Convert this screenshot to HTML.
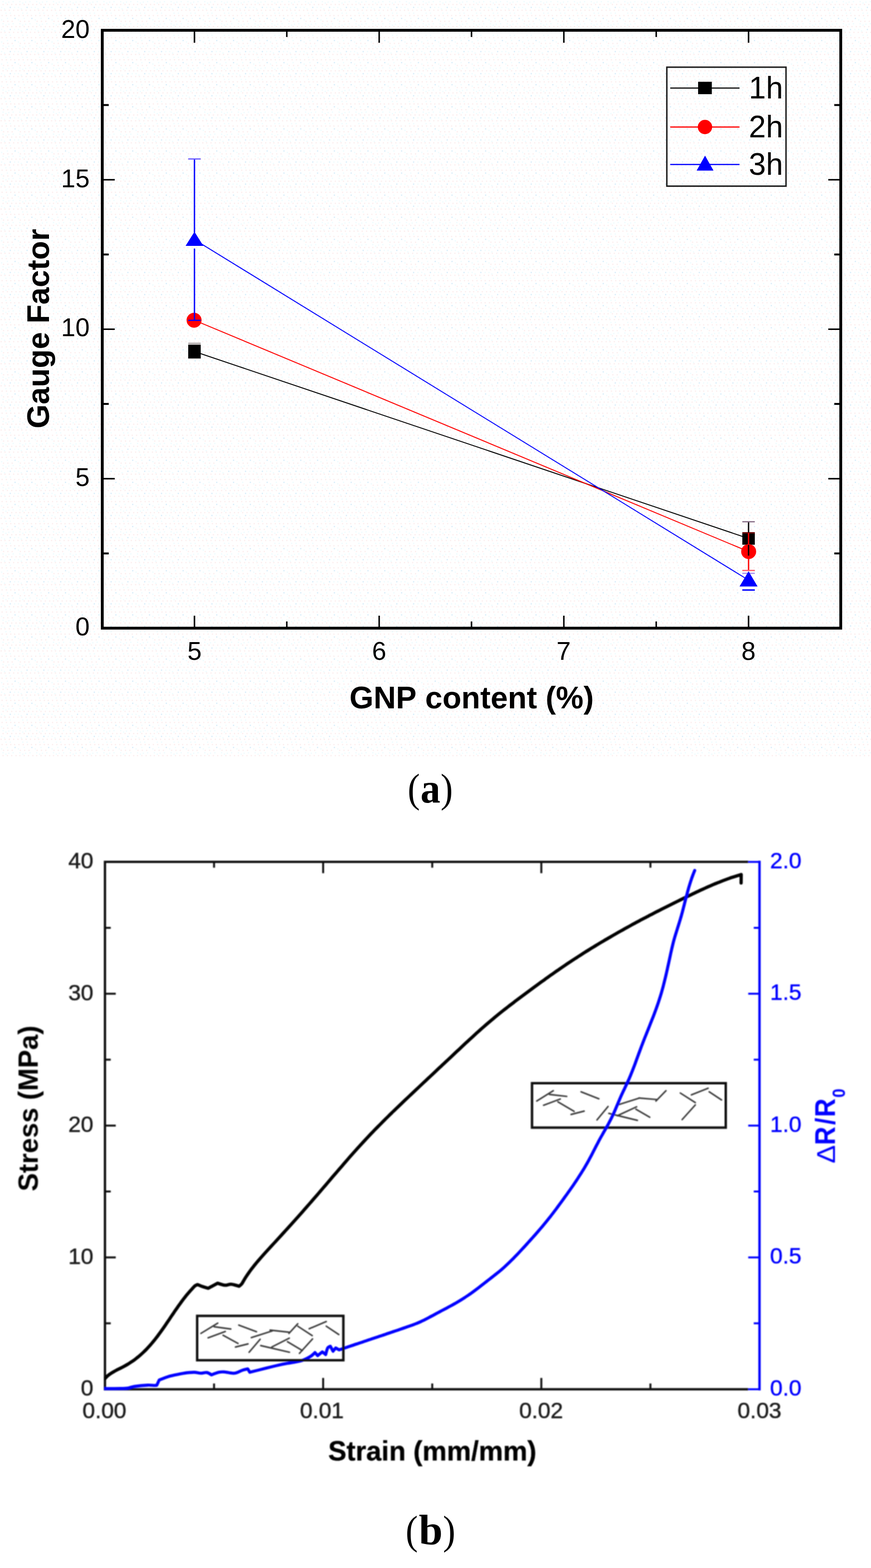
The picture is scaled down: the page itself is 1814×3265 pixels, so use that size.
<!DOCTYPE html>
<html lang="en">
<head>
<meta charset="utf-8">
<title>Gauge factor and stress-strain figure</title>
<style>
html,body{margin:0;padding:0;background:#fff;}
body{width:1814px;height:3265px;overflow:hidden;}
svg{display:block;}
text{font-family:"Liberation Sans", Arial, Helvetica, sans-serif;font-kerning:none;white-space:pre;}
text.serif{font-family:"Liberation Serif", "Times New Roman", serif;}
</style>
</head>
<body>
<svg width="1814" height="3265" viewBox="0 0 1814 3265">
<defs>
<filter id="soft" filterUnits="userSpaceOnUse" x="0" y="1740" width="1814" height="1340">
<feGaussianBlur stdDeviation="1"/>
</filter>
<clipPath id="plotclip"><rect x="217" y="1790" width="1370" height="1107"/></clipPath>
<pattern id="dots" x="0" y="0" width="35" height="46" patternUnits="userSpaceOnUse">
<rect x="5" y="8" width="2.8" height="2.8" fill="#fcf0f0"/>
<rect x="14" y="8" width="2.8" height="2.8" fill="#fcf0f0"/>
<rect x="23" y="8" width="2.8" height="2.8" fill="#fcf0f0"/>
<rect x="32" y="8" width="2.8" height="2.8" fill="#fcf0f0"/>
<rect x="1" y="20" width="2.8" height="2.8" fill="#fcf0f0"/>
<rect x="9" y="20" width="2.8" height="2.8" fill="#fcf0f0"/>
<rect x="18" y="20" width="2.8" height="2.8" fill="#fcf0f0"/>
<rect x="27" y="20" width="2.8" height="2.8" fill="#fcf0f0"/>
<rect x="3" y="31" width="2.8" height="2.8" fill="#fcf0f0"/>
<rect x="12" y="31" width="2.8" height="2.8" fill="#fcf0f0"/>
<rect x="21" y="31" width="2.8" height="2.8" fill="#fcf0f0"/>
<rect x="29" y="31" width="2.8" height="2.8" fill="#fcf0f0"/>
<rect x="6" y="43" width="2.8" height="2.8" fill="#fcf0f0"/>
<rect x="15" y="43" width="2.8" height="2.8" fill="#fcf0f0"/>
<rect x="24" y="43" width="2.8" height="2.8" fill="#fcf0f0"/>
<rect x="5" y="2" width="2.8" height="2.8" fill="#f0fcfe"/>
<rect x="17" y="3" width="2.8" height="2.8" fill="#f0fcfe"/>
<rect x="26" y="2" width="2.8" height="2.8" fill="#f0fcfe"/>
<rect x="11" y="5" width="2.8" height="2.8" fill="#f0fcfe"/>
<rect x="2" y="14" width="2.8" height="2.8" fill="#f0fcfe"/>
<rect x="8" y="17" width="2.8" height="2.8" fill="#f0fcfe"/>
<rect x="29" y="14" width="2.8" height="2.8" fill="#f0fcfe"/>
<rect x="11" y="26" width="2.8" height="2.8" fill="#f0fcfe"/>
<rect x="20" y="26" width="2.8" height="2.8" fill="#f0fcfe"/>
<rect x="14" y="37" width="2.8" height="2.8" fill="#f0fcfe"/>
<rect x="2" y="40" width="2.8" height="2.8" fill="#f0fcfe"/>
<rect x="20" y="14" width="2.8" height="2.8" fill="#ddeffa"/>
<rect x="30" y="37" width="2.8" height="2.8" fill="#ddeffa"/>
</pattern>
</defs>
<rect x="0" y="0" width="1814" height="3265" fill="#ffffff"/>
<rect x="0" y="0" width="1814" height="1578" fill="url(#dots)"/>

<g id="chart-a">
<g stroke="#000" stroke-width="3.1" fill="none">
<line x1="405.0" y1="1308.0" x2="405.0" y2="1282.0"/>
<line x1="405.0" y1="63.05" x2="405.0" y2="89.05"/>
<line x1="789.7" y1="1308.0" x2="789.7" y2="1282.0"/>
<line x1="789.7" y1="63.05" x2="789.7" y2="89.05"/>
<line x1="1174.3" y1="1308.0" x2="1174.3" y2="1282.0"/>
<line x1="1174.3" y1="63.05" x2="1174.3" y2="89.05"/>
<line x1="1559.0" y1="1308.0" x2="1559.0" y2="1282.0"/>
<line x1="1559.0" y1="63.05" x2="1559.0" y2="89.05"/>
<line x1="597.3" y1="1308.0" x2="597.3" y2="1294.0"/>
<line x1="597.3" y1="63.05" x2="597.3" y2="77.05"/>
<line x1="982.0" y1="1308.0" x2="982.0" y2="1294.0"/>
<line x1="982.0" y1="63.05" x2="982.0" y2="77.05"/>
<line x1="1366.7" y1="1308.0" x2="1366.7" y2="1294.0"/>
<line x1="1366.7" y1="63.05" x2="1366.7" y2="77.05"/>
<line x1="213.0" y1="996.8" x2="239.0" y2="996.8"/>
<line x1="1751.0" y1="996.8" x2="1725.0" y2="996.8"/>
<line x1="213.0" y1="685.5" x2="239.0" y2="685.5"/>
<line x1="1751.0" y1="685.5" x2="1725.0" y2="685.5"/>
<line x1="213.0" y1="374.3" x2="239.0" y2="374.3"/>
<line x1="1751.0" y1="374.3" x2="1725.0" y2="374.3"/>
</g>
<g stroke="#000" stroke-width="4" fill="none">
<line x1="213.0" y1="1152.4" x2="226.5" y2="1152.4"/>
<line x1="1751.0" y1="1152.4" x2="1737.5" y2="1152.4"/>
<line x1="213.0" y1="841.1" x2="226.5" y2="841.1"/>
<line x1="1751.0" y1="841.1" x2="1737.5" y2="841.1"/>
<line x1="213.0" y1="529.9" x2="226.5" y2="529.9"/>
<line x1="1751.0" y1="529.9" x2="1737.5" y2="529.9"/>
<line x1="213.0" y1="218.7" x2="226.5" y2="218.7"/>
<line x1="1751.0" y1="218.7" x2="1737.5" y2="218.7"/>
</g>
<rect x="213.0" y="63.05" width="1538.0" height="1244.95" fill="none" stroke="#000" stroke-width="5.9"/>
<text x="127.18" y="79.30" font-size="53.50" fill="#000">20</text>
<text x="127.34" y="389.60" font-size="53.50" fill="#000">15</text>
<text x="127.18" y="700.10" font-size="53.50" fill="#000">10</text>
<text x="157.09" y="1011.90" font-size="53.50" fill="#000">5</text>
<text x="156.94" y="1322.50" font-size="53.50" fill="#000">0</text>
<text x="390.18" y="1374.20" font-size="53.50" fill="#000">5</text>
<text x="774.64" y="1374.20" font-size="53.50" fill="#000">6</text>
<text x="1159.10" y="1374.20" font-size="53.50" fill="#000">7</text>
<text x="1544.12" y="1374.20" font-size="53.50" fill="#000">8</text>
<text x="727.87" y="1475.30" font-size="64.50" font-weight="bold" fill="#000">GNP content (%)</text>
<text transform="translate(101.80 892.21) rotate(-90)" font-size="64.50" font-weight="bold" fill="#000">Gauge Factor</text>
<line x1="405.0" y1="732.0" x2="1559.0" y2="1121.3" stroke="#000000" stroke-width="2"/>
<line x1="405.0" y1="666.8" x2="1559.0" y2="1148.5" stroke="#ff0000" stroke-width="2"/>
<line x1="405.0" y1="499.0" x2="1559.0" y2="1208.0" stroke="#0000ff" stroke-width="2"/>
<line x1="392" y1="715.6" x2="418" y2="715.6" stroke="#b9b4b4" stroke-width="4.6"/>
<rect x="392.0" y="718.0" width="26" height="28.5" fill="#000"/>
<circle cx="404.2" cy="666.8" r="15.6" fill="#ff0000"/>
<line x1="405" y1="331" x2="405" y2="484" stroke="#0000ff" stroke-width="2.8"/>
<line x1="405" y1="517.5" x2="405" y2="667" stroke="#0000ff" stroke-width="2.8"/>
<line x1="392" y1="331" x2="418" y2="331" stroke="#6a5aff" stroke-width="2.6"/>
<line x1="392" y1="667" x2="418" y2="667" stroke="#0000ff" stroke-width="2.6"/>
<polygon points="405,482.5 423.5,512 386.5,512" fill="#0000ff"/>
<line x1="1559" y1="1086.4" x2="1559" y2="1110" stroke="#000" stroke-width="2.8"/>
<line x1="1546" y1="1086.4" x2="1572" y2="1086.4" stroke="#8a7088" stroke-width="2.6"/>
<rect x="1546.0" y="1108.3" width="26" height="26" fill="#000"/>
<circle cx="1559.2" cy="1148.5" r="15.6" fill="#ff0000"/>
<line x1="1546" y1="1109.6" x2="1572" y2="1109.6" stroke="#700000" stroke-width="2.6"/>
<line x1="1559" y1="1110" x2="1559" y2="1134.5" stroke="#ff0000" stroke-width="2.8"/>
<line x1="1559" y1="1134.5" x2="1559" y2="1157" stroke="#000" stroke-width="2.8"/>
<line x1="1559" y1="1163" x2="1559" y2="1188" stroke="#ff0000" stroke-width="2.8"/>
<line x1="1546" y1="1187.9" x2="1572" y2="1187.9" stroke="#ff5a6a" stroke-width="2.6"/>
<line x1="1546" y1="1193.8" x2="1572" y2="1193.8" stroke="#a890f0" stroke-width="2.6"/>
<polygon points="1559,1189.4 1577.8,1221.2 1540.2,1221.2" fill="#0000ff"/>
<line x1="1546" y1="1228.6" x2="1572" y2="1228.6" stroke="#0000ff" stroke-width="3"/>
<rect x="1388.8" y="139.9" width="248.2" height="247.7" fill="none" stroke="#1a1a1a" stroke-width="3"/>
<line x1="1395.8" y1="183.3" x2="1540.2" y2="183.3" stroke="#222" stroke-width="2.7"/>
<line x1="1395.8" y1="264.5" x2="1540.2" y2="264.5" stroke="#ff0000" stroke-width="2.7"/>
<line x1="1395.8" y1="342.5" x2="1540.2" y2="342.5" stroke="#0000ff" stroke-width="2.7"/>
<rect x="1453.9" y="170.3" width="28.6" height="25.8" fill="#000"/>
<circle cx="1468.2" cy="264.5" r="15" fill="#ff0000"/>
<polygon points="1468.4,323.9 1486.0,355.2 1450.8000000000002,355.2" fill="#0000ff"/>
<text x="1559.57" y="205.00" font-size="64.00" fill="#000">1h</text>
<text x="1559.57" y="285.90" font-size="64.00" fill="#000">2h</text>
<text x="1559.57" y="364.20" font-size="64.00" fill="#000">3h</text>
</g>
<text class="serif" fill="#000"><tspan x="848.93" y="1670.30" font-size="85.03" textLength="25.54" lengthAdjust="spacingAndGlyphs">(</tspan><tspan x="875.64" y="1671.03" font-size="89.14" font-weight="bold" textLength="41.31" lengthAdjust="spacingAndGlyphs">a</tspan><tspan x="917.62" y="1670.30" font-size="85.03" textLength="25.67" lengthAdjust="spacingAndGlyphs">)</tspan></text>
<g id="chart-b" filter="url(#soft)">
<g stroke="#0a0a0a" stroke-width="4" fill="none">
<line x1="673.0" y1="2892.8" x2="673.0" y2="2869.3"/>
<line x1="673.0" y1="1794.7" x2="673.0" y2="1818.2"/>
<line x1="1127.4" y1="2892.8" x2="1127.4" y2="2869.3"/>
<line x1="1127.4" y1="1794.7" x2="1127.4" y2="1818.2"/>
<line x1="445.8" y1="2892.8" x2="445.8" y2="2880.8"/>
<line x1="445.8" y1="1794.7" x2="445.8" y2="1806.7"/>
<line x1="900.2" y1="2892.8" x2="900.2" y2="2880.8"/>
<line x1="900.2" y1="1794.7" x2="900.2" y2="1806.7"/>
<line x1="1354.6" y1="2892.8" x2="1354.6" y2="2880.8"/>
<line x1="1354.6" y1="1794.7" x2="1354.6" y2="1806.7"/>
<line x1="218.6" y1="2618.3" x2="241.1" y2="2618.3"/>
<line x1="218.6" y1="2343.8" x2="241.1" y2="2343.8"/>
<line x1="218.6" y1="2069.2" x2="241.1" y2="2069.2"/>
<line x1="218.6" y1="2755.5" x2="230.6" y2="2755.5"/>
<line x1="218.6" y1="2481.0" x2="230.6" y2="2481.0"/>
<line x1="218.6" y1="2206.5" x2="230.6" y2="2206.5"/>
<line x1="218.6" y1="1932.0" x2="230.6" y2="1932.0"/>
</g>
<g stroke="#0000ff" stroke-width="4" fill="none">
<line x1="1581.8" y1="2892.8" x2="1558.3" y2="2892.8"/>
<line x1="1581.8" y1="2618.3" x2="1558.3" y2="2618.3"/>
<line x1="1581.8" y1="2343.8" x2="1558.3" y2="2343.8"/>
<line x1="1581.8" y1="2069.2" x2="1558.3" y2="2069.2"/>
<line x1="1581.8" y1="1794.7" x2="1558.3" y2="1794.7"/>
<line x1="1581.8" y1="2755.5" x2="1569.8" y2="2755.5"/>
<line x1="1581.8" y1="2481.0" x2="1569.8" y2="2481.0"/>
<line x1="1581.8" y1="2206.5" x2="1569.8" y2="2206.5"/>
<line x1="1581.8" y1="1932.0" x2="1569.8" y2="1932.0"/>
</g>
<path d="M1558.3,1794.7 H218.6 V2892.8 H1558.3" fill="none" stroke="#0a0a0a" stroke-width="4.8" stroke-linejoin="miter"/>
<line x1="1581.8" y1="1792.3" x2="1581.8" y2="2895.2000000000003" stroke="#0000ff" stroke-width="5"/>
<text x="168.30" y="2906.40" font-size="47.00" fill="#1c1c1c" stroke="#1c1c1c" stroke-width="0.7">0</text>
<text x="142.16" y="2631.88" font-size="47.00" fill="#1c1c1c" stroke="#1c1c1c" stroke-width="0.7">10</text>
<text x="142.16" y="2357.35" font-size="47.00" fill="#1c1c1c" stroke="#1c1c1c" stroke-width="0.7">20</text>
<text x="142.16" y="2082.82" font-size="47.00" fill="#1c1c1c" stroke="#1c1c1c" stroke-width="0.7">30</text>
<text x="142.16" y="1808.30" font-size="47.00" fill="#1c1c1c" stroke="#1c1c1c" stroke-width="0.7">40</text>
<text x="1603.76" y="2906.00" font-size="47.0" fill="#0000ff" stroke="#0000ff" stroke-width="0.7">0.0</text>
<text x="1603.76" y="2631.47" font-size="47.0" fill="#0000ff" stroke="#0000ff" stroke-width="0.7">0.5</text>
<text x="1603.76" y="2356.95" font-size="47.0" fill="#0000ff" stroke="#0000ff" stroke-width="0.7">1.0</text>
<text x="1603.76" y="2082.42" font-size="47.0" fill="#0000ff" stroke="#0000ff" stroke-width="0.7">1.5</text>
<text x="1603.76" y="1807.90" font-size="47.0" fill="#0000ff" stroke="#0000ff" stroke-width="0.7">2.0</text>
<text x="171.76" y="2953.20" font-size="47.00" fill="#1c1c1c" stroke="#1c1c1c" stroke-width="0.7">0.00</text>
<text x="624.69" y="2953.20" font-size="47.00" fill="#1c1c1c" stroke="#1c1c1c" stroke-width="0.7">0.01</text>
<text x="1081.13" y="2953.20" font-size="47.00" fill="#1c1c1c" stroke="#1c1c1c" stroke-width="0.7">0.02</text>
<text x="1535.98" y="2953.20" font-size="47.00" fill="#1c1c1c" stroke="#1c1c1c" stroke-width="0.7">0.03</text>
<text x="683.45" y="3041.40" font-size="57.00" font-weight="bold" fill="#050505" stroke="#050505" stroke-width="0.5">Strain (mm/mm)</text>
<text transform="translate(78.60 2480.64) rotate(-90)" font-size="57.00" font-weight="bold" fill="#000">Stress (MPa)</text>
<text transform="translate(1738.90 2422.50) rotate(-90)" fill="#0000ff"><tspan x="0.00" y="0.00" font-size="52.76" textLength="38.13" lengthAdjust="spacingAndGlyphs">Δ</tspan><tspan x="38.15" y="-0.40" font-size="59.59" font-weight="bold" textLength="38.34" lengthAdjust="spacingAndGlyphs">R</tspan><tspan x="80.19" y="-0.15" font-size="57.34" font-weight="bold" textLength="14.63" lengthAdjust="spacingAndGlyphs">/</tspan><tspan x="96.41" y="-0.40" font-size="59.59" font-weight="bold" textLength="38.80" lengthAdjust="spacingAndGlyphs">R</tspan><tspan x="137.07" y="20.74" font-size="36.44" font-weight="bold" textLength="18.71" lengthAdjust="spacingAndGlyphs">0</tspan></text>
<path d="M218.6,2870.5 C219.6,2869.5 222.3,2866.5 224.4,2864.7 C226.4,2863.0 228.6,2861.4 230.9,2859.9 C233.1,2858.4 235.5,2857.0 237.8,2855.7 C240.2,2854.3 242.7,2853.1 245.1,2851.8 C247.6,2850.5 250.1,2849.3 252.6,2848.1 C255.0,2846.8 257.5,2845.6 259.9,2844.2 C262.4,2842.9 264.7,2841.5 267.1,2840.1 C269.4,2838.7 271.8,2837.2 274.0,2835.6 C276.3,2834.1 278.6,2832.5 280.8,2830.9 C283.0,2829.2 285.1,2827.5 287.3,2825.8 C289.4,2824.1 291.5,2822.3 293.5,2820.5 C295.6,2818.7 297.6,2816.8 299.6,2814.9 C301.5,2813.0 303.5,2811.1 305.4,2809.1 C307.3,2807.1 309.2,2805.1 311.0,2803.1 C312.8,2801.0 314.6,2799.0 316.4,2796.9 C318.2,2794.8 319.9,2792.6 321.7,2790.5 C323.4,2788.3 325.1,2786.1 326.8,2783.9 C328.4,2781.7 330.1,2779.5 331.7,2777.3 C333.4,2775.0 335.0,2772.8 336.6,2770.5 C338.2,2768.3 339.8,2766.0 341.4,2763.7 C343.0,2761.4 344.6,2759.1 346.1,2756.8 C347.7,2754.5 349.3,2752.2 350.8,2749.9 C352.4,2747.5 354.0,2745.2 355.5,2742.9 C357.1,2740.6 358.6,2738.3 360.2,2736.0 C361.8,2733.7 363.3,2731.3 364.9,2729.1 C366.5,2726.8 368.1,2724.5 369.7,2722.2 C371.2,2719.9 372.9,2717.7 374.5,2715.4 C376.1,2713.2 377.7,2710.9 379.4,2708.7 C381.0,2706.5 382.7,2704.3 384.4,2702.2 C386.1,2700.0 387.8,2697.8 389.5,2695.7 C391.3,2693.6 393.1,2691.5 394.9,2689.5 C396.6,2687.4 398.5,2685.4 400.3,2683.4 C402.2,2681.4 404.2,2678.9 406.0,2677.5 C407.6,2676.3 411.3,2674.8 411.3,2674.8 C411.3,2674.8 418.4,2677.7 422.0,2679.0 C425.7,2680.3 433.6,2682.5 433.6,2682.5 C433.6,2682.5 439.9,2679.2 443.0,2677.5 C446.3,2675.8 453.2,2672.0 453.2,2672.0 C453.2,2672.0 463.9,2675.8 468.6,2676.2 C472.8,2676.5 477.0,2673.8 481.2,2674.1 C486.1,2674.4 497.9,2678.3 497.9,2678.3 C497.9,2678.3 502.2,2675.1 503.8,2673.0 C505.6,2670.6 507.1,2667.1 508.9,2664.2 C510.7,2661.3 512.5,2658.5 514.4,2655.7 C516.2,2652.9 518.2,2650.1 520.1,2647.4 C522.1,2644.7 524.1,2642.0 526.2,2639.4 C528.2,2636.7 530.3,2634.1 532.5,2631.5 C534.6,2628.9 536.8,2626.4 538.9,2623.8 C541.1,2621.3 543.3,2618.7 545.6,2616.2 C547.8,2613.7 550.0,2611.2 552.3,2608.7 C554.5,2606.2 556.8,2603.8 559.1,2601.3 C561.4,2598.8 563.6,2596.3 565.9,2593.9 C568.2,2591.4 570.5,2588.9 572.8,2586.5 C575.0,2584.0 577.3,2581.5 579.6,2579.0 C581.8,2576.6 584.1,2574.1 586.4,2571.6 C588.6,2569.1 590.9,2566.6 593.2,2564.1 C595.4,2561.7 597.7,2559.2 599.9,2556.7 C602.2,2554.2 604.5,2551.7 606.7,2549.2 C609.0,2546.7 611.2,2544.2 613.5,2541.7 C615.7,2539.2 617.9,2536.7 620.2,2534.2 C622.4,2531.7 624.7,2529.2 626.9,2526.7 C629.1,2524.2 631.4,2521.6 633.6,2519.1 C635.8,2516.6 638.0,2514.1 640.2,2511.5 C642.5,2509.0 644.7,2506.5 646.9,2503.9 C649.1,2501.4 651.3,2498.9 653.5,2496.3 C655.7,2493.8 657.9,2491.2 660.1,2488.7 C662.3,2486.1 664.5,2483.6 666.7,2481.0 C668.9,2478.5 671.1,2475.9 673.2,2473.4 C675.4,2470.8 677.6,2468.2 679.8,2465.7 C682.0,2463.1 684.2,2460.6 686.4,2458.0 C688.5,2455.5 690.7,2452.9 692.9,2450.3 C695.1,2447.8 697.3,2445.2 699.5,2442.7 C701.7,2440.1 703.9,2437.6 706.1,2435.0 C708.3,2432.5 710.5,2429.9 712.7,2427.4 C714.9,2424.8 717.1,2422.3 719.3,2419.7 C721.5,2417.2 723.7,2414.7 725.9,2412.1 C728.1,2409.6 730.4,2407.1 732.6,2404.6 C734.8,2402.0 737.0,2399.5 739.3,2397.0 C741.5,2394.5 743.8,2392.0 746.0,2389.5 C748.3,2387.0 750.5,2384.5 752.8,2382.1 C755.1,2379.6 757.4,2377.1 759.7,2374.6 C761.9,2372.2 764.2,2369.7 766.5,2367.3 C768.9,2364.8 771.2,2362.4 773.5,2359.9 C775.8,2357.5 778.2,2355.1 780.5,2352.7 C782.8,2350.3 785.2,2347.9 787.6,2345.5 C789.9,2343.1 792.3,2340.7 794.7,2338.3 C797.0,2335.9 799.4,2333.5 801.8,2331.2 C804.2,2328.8 806.6,2326.4 809.0,2324.1 C811.4,2321.7 813.8,2319.4 816.2,2317.0 C818.6,2314.7 821.0,2312.3 823.5,2310.0 C825.9,2307.7 828.3,2305.3 830.8,2303.0 C833.2,2300.7 835.6,2298.4 838.1,2296.0 C840.5,2293.7 842.9,2291.4 845.4,2289.1 C847.8,2286.8 850.3,2284.4 852.7,2282.1 C855.2,2279.8 857.6,2277.5 860.0,2275.2 C862.5,2272.9 864.9,2270.6 867.4,2268.3 C869.8,2266.0 872.3,2263.7 874.7,2261.4 C877.2,2259.1 879.6,2256.8 882.1,2254.4 C884.6,2252.1 887.0,2249.8 889.5,2247.5 C891.9,2245.2 894.4,2242.9 896.8,2240.6 C899.3,2238.3 901.7,2236.0 904.2,2233.7 C906.6,2231.4 909.1,2229.1 911.5,2226.8 C914.0,2224.5 916.4,2222.2 918.9,2219.9 C921.3,2217.6 923.8,2215.3 926.3,2213.0 C928.7,2210.7 931.2,2208.4 933.6,2206.1 C936.1,2203.8 938.5,2201.5 941.0,2199.2 C943.4,2196.9 945.9,2194.6 948.3,2192.3 C950.8,2190.0 953.2,2187.7 955.7,2185.4 C958.1,2183.1 960.6,2180.8 963.0,2178.5 C965.5,2176.2 967.9,2173.9 970.4,2171.6 C972.9,2169.3 975.3,2167.0 977.8,2164.7 C980.3,2162.5 982.8,2160.2 985.3,2157.9 C987.7,2155.6 990.2,2153.4 992.7,2151.1 C995.2,2148.9 997.7,2146.6 1000.2,2144.4 C1002.7,2142.2 1005.3,2139.9 1007.8,2137.7 C1010.3,2135.5 1012.9,2133.3 1015.4,2131.1 C1018.0,2128.9 1020.5,2126.8 1023.1,2124.6 C1025.7,2122.4 1028.3,2120.3 1030.8,2118.1 C1033.4,2116.0 1036.0,2113.9 1038.7,2111.7 C1041.3,2109.6 1043.9,2107.5 1046.5,2105.4 C1049.2,2103.3 1051.8,2101.3 1054.5,2099.2 C1057.1,2097.1 1059.8,2095.1 1062.4,2093.0 C1065.1,2090.9 1067.8,2088.9 1070.5,2086.9 C1073.1,2084.8 1075.8,2082.8 1078.5,2080.8 C1081.2,2078.7 1083.9,2076.7 1086.6,2074.7 C1089.3,2072.7 1092.0,2070.7 1094.7,2068.7 C1097.4,2066.7 1100.1,2064.7 1102.8,2062.7 C1105.5,2060.7 1108.2,2058.7 1110.9,2056.7 C1113.6,2054.7 1116.4,2052.7 1119.1,2050.7 C1121.8,2048.7 1124.5,2046.8 1127.2,2044.8 C1130.0,2042.8 1132.7,2040.9 1135.4,2038.9 C1138.2,2036.9 1140.9,2035.0 1143.6,2033.0 C1146.4,2031.1 1149.1,2029.1 1151.9,2027.2 C1154.6,2025.3 1157.4,2023.3 1160.1,2021.4 C1162.9,2019.5 1165.7,2017.6 1168.4,2015.7 C1171.2,2013.8 1174.0,2011.9 1176.8,2010.0 C1179.5,2008.1 1182.3,2006.2 1185.1,2004.4 C1187.9,2002.5 1190.7,2000.7 1193.5,1998.8 C1196.3,1997.0 1199.1,1995.1 1202.0,1993.3 C1204.8,1991.5 1207.6,1989.6 1210.5,1987.8 C1213.3,1986.0 1216.1,1984.2 1219.0,1982.4 C1221.8,1980.6 1224.7,1978.9 1227.5,1977.1 C1230.4,1975.3 1233.2,1973.6 1236.1,1971.8 C1239.0,1970.0 1241.9,1968.3 1244.7,1966.6 C1247.6,1964.8 1250.5,1963.1 1253.4,1961.4 C1256.3,1959.7 1259.2,1957.9 1262.1,1956.2 C1265.0,1954.5 1267.9,1952.8 1270.8,1951.2 C1273.7,1949.5 1276.6,1947.8 1279.6,1946.1 C1282.5,1944.4 1285.4,1942.8 1288.3,1941.1 C1291.3,1939.5 1294.2,1937.8 1297.2,1936.2 C1300.1,1934.5 1303.0,1932.9 1306.0,1931.3 C1308.9,1929.7 1311.9,1928.0 1314.8,1926.4 C1317.8,1924.8 1320.8,1923.2 1323.7,1921.6 C1326.7,1920.0 1329.7,1918.4 1332.6,1916.8 C1335.6,1915.3 1338.6,1913.7 1341.6,1912.1 C1344.5,1910.5 1347.5,1909.0 1350.5,1907.4 C1353.5,1905.8 1356.5,1904.3 1359.5,1902.7 C1362.5,1901.2 1365.4,1899.7 1368.4,1898.1 C1371.4,1896.6 1374.4,1895.1 1377.4,1893.5 C1380.4,1892.0 1383.5,1890.5 1386.5,1889.0 C1389.5,1887.5 1392.5,1886.0 1395.5,1884.5 C1398.5,1882.9 1401.5,1881.5 1404.5,1880.0 C1407.5,1878.5 1410.6,1877.0 1413.6,1875.5 C1416.6,1874.0 1419.6,1872.5 1422.6,1871.1 C1425.7,1869.6 1428.7,1868.1 1431.7,1866.7 C1434.7,1865.2 1437.8,1863.7 1440.8,1862.3 C1443.8,1860.8 1446.9,1859.4 1449.9,1857.9 C1452.9,1856.5 1456.0,1855.1 1459.0,1853.7 C1462.1,1852.3 1465.1,1850.9 1468.2,1849.5 C1471.3,1848.1 1474.3,1846.8 1477.4,1845.4 C1480.5,1844.1 1483.6,1842.7 1486.7,1841.4 C1489.8,1840.1 1492.9,1838.9 1496.0,1837.6 C1499.1,1836.4 1502.2,1835.1 1505.4,1833.9 C1508.5,1832.7 1511.6,1831.5 1514.8,1830.4 C1518.0,1829.3 1521.2,1828.1 1524.3,1827.1 C1527.5,1826.0 1530.8,1824.9 1534.0,1823.9 C1537.2,1822.9 1543.7,1821.0 1543.7,1821.0 C1543.7,1821.0 1543.5,1835.6 1543.5,1838.5" clip-path="url(#plotclip)" fill="none" stroke="#000" stroke-width="6.8" stroke-linejoin="round" stroke-linecap="round"/>
<rect x="1108.0" y="2255.5" width="403.5" height="92.5" fill="none" stroke="#0a0a0a" stroke-width="5"/>
<g stroke="#3a3a3a" stroke-width="3.2" stroke-linecap="round" fill="none">
<line x1="1117.9" y1="2292.7" x2="1152.3" y2="2271.1"/>
<line x1="1144.3" y1="2278.9" x2="1180.3" y2="2283.0"/>
<line x1="1132.1" y1="2301.4" x2="1166.8" y2="2288.5"/>
<line x1="1162.0" y1="2294.3" x2="1195.7" y2="2314.2"/>
<line x1="1189.3" y1="2320.6" x2="1216.6" y2="2313.6"/>
<line x1="1210.2" y1="2273.4" x2="1247.2" y2="2287.9"/>
<line x1="1243.3" y1="2331.9" x2="1266.4" y2="2303.9"/>
<line x1="1268.0" y1="2318.4" x2="1327.5" y2="2332.9"/>
<line x1="1288.9" y1="2300.1" x2="1332.3" y2="2286.3"/>
<line x1="1330.7" y1="2286.3" x2="1367.7" y2="2289.5"/>
<line x1="1366.1" y1="2292.7" x2="1387.0" y2="2271.1"/>
<line x1="1285.7" y1="2323.2" x2="1325.9" y2="2304.6"/>
<line x1="1324.3" y1="2309.7" x2="1353.2" y2="2326.4"/>
<line x1="1416.9" y1="2276.0" x2="1448.1" y2="2295.9"/>
<line x1="1420.7" y1="2331.3" x2="1448.1" y2="2300.7"/>
<line x1="1440.0" y1="2279.8" x2="1474.7" y2="2266.0"/>
<line x1="1477.0" y1="2273.4" x2="1502.7" y2="2290.4"/>
</g>
<path d="M218.6,2891.5 C223.8,2891.5 242.1,2891.5 250.0,2891.3 C255.3,2891.2 261.0,2891.2 266.0,2890.5 C270.7,2889.8 275.2,2887.5 279.9,2886.8 C286.9,2885.8 300.8,2884.5 307.8,2884.2 C312.5,2884.0 318.7,2884.8 321.8,2884.9 C323.4,2884.9 326.5,2884.5 326.5,2884.5 C326.5,2884.5 331.6,2873.5 331.6,2873.5 C331.6,2873.5 344.5,2868.4 349.8,2866.7 C354.3,2865.2 359.1,2864.2 363.7,2863.2 C368.3,2862.2 373.0,2861.2 377.7,2860.4 C382.3,2859.6 387.1,2858.8 391.7,2858.3 C396.1,2857.8 400.6,2857.3 405.0,2857.5 C409.4,2857.7 413.9,2859.3 418.2,2859.4 C422.4,2859.5 427.0,2857.4 430.7,2858.0 C434.3,2858.6 440.5,2862.9 440.5,2862.9 C440.5,2862.9 451.5,2858.4 455.9,2857.4 C459.5,2856.6 463.4,2856.5 467.1,2856.7 C472.5,2857.0 481.7,2860.0 488.0,2859.4 C493.9,2858.8 500.1,2854.7 504.8,2853.2 C508.5,2852.0 516.0,2850.4 516.0,2850.4 C516.0,2850.4 520.2,2857.4 520.2,2857.4 C520.2,2857.4 533.3,2854.1 539.8,2852.5 C547.7,2850.5 559.6,2847.5 567.7,2845.5 C574.7,2843.8 583.3,2841.8 588.7,2840.6 C592.4,2839.8 596.2,2839.3 600.0,2838.6 C606.5,2837.4 620.3,2835.5 628.0,2833.2 C634.4,2831.3 641.5,2827.6 646.1,2824.8 C649.8,2822.6 655.9,2816.4 655.9,2816.4 C655.9,2816.4 661.5,2822.7 661.5,2822.7 C661.5,2822.7 671.3,2815.0 671.3,2815.0 C671.3,2815.0 678.3,2820.6 678.3,2820.6 C678.3,2820.6 680.9,2809.6 682.5,2806.7 C683.6,2804.8 688.0,2803.2 688.0,2803.2 C688.0,2803.2 693.6,2813.6 693.6,2813.6 C693.6,2813.6 699.2,2806.7 699.2,2806.7 C699.2,2806.7 706.2,2810.8 706.2,2810.8 C706.2,2810.8 711.8,2808.9 714.6,2808.0 C717.6,2807.0 721.0,2805.9 724.2,2804.8 C727.3,2803.7 730.5,2802.7 733.7,2801.6 C736.9,2800.5 740.1,2799.4 743.3,2798.4 C746.5,2797.3 749.6,2796.2 752.8,2795.2 C756.0,2794.1 759.2,2793.0 762.4,2792.0 C765.6,2790.9 768.7,2789.8 771.9,2788.8 C775.1,2787.7 778.3,2786.6 781.5,2785.5 C784.7,2784.5 787.8,2783.4 791.0,2782.3 C794.2,2781.2 797.4,2780.2 800.6,2779.1 C803.8,2778.0 806.9,2776.9 810.1,2775.9 C813.3,2774.8 816.5,2773.7 819.7,2772.6 C822.9,2771.5 826.1,2770.5 829.2,2769.4 C832.4,2768.3 835.6,2767.2 838.8,2766.1 C842.0,2765.0 845.2,2764.0 848.3,2762.8 C851.5,2761.7 854.7,2760.6 857.8,2759.5 C860.9,2758.3 864.1,2757.2 867.2,2755.9 C870.3,2754.7 873.3,2753.4 876.4,2752.0 C879.4,2750.7 882.4,2749.2 885.4,2747.7 C888.3,2746.2 891.3,2744.6 894.2,2743.0 C897.1,2741.5 900.1,2739.8 903.0,2738.3 C906.0,2736.7 908.9,2735.1 911.9,2733.5 C914.8,2731.9 917.8,2730.4 920.8,2728.8 C923.7,2727.2 926.7,2725.6 929.7,2724.1 C932.6,2722.5 935.6,2720.9 938.6,2719.3 C941.5,2717.7 944.5,2716.0 947.4,2714.4 C950.3,2712.7 953.2,2711.1 956.1,2709.3 C959.0,2707.6 961.8,2705.8 964.7,2704.0 C967.5,2702.2 970.3,2700.4 973.0,2698.5 C975.8,2696.6 978.6,2694.7 981.3,2692.8 C984.0,2690.8 986.7,2688.9 989.4,2686.9 C992.1,2684.9 994.8,2682.9 997.5,2680.8 C1000.1,2678.8 1002.8,2676.7 1005.4,2674.6 C1008.1,2672.6 1010.7,2670.5 1013.4,2668.4 C1016.0,2666.3 1018.7,2664.3 1021.3,2662.2 C1023.9,2660.1 1026.6,2658.1 1029.2,2656.0 C1031.8,2653.9 1034.5,2651.9 1037.1,2649.8 C1039.7,2647.7 1042.2,2645.5 1044.8,2643.4 C1047.3,2641.2 1049.8,2639.0 1052.2,2636.7 C1054.7,2634.5 1057.1,2632.2 1059.5,2629.8 C1062.0,2627.5 1064.3,2625.2 1066.7,2622.8 C1069.1,2620.4 1071.4,2618.0 1073.8,2615.6 C1076.1,2613.2 1078.4,2610.8 1080.7,2608.3 C1083.0,2605.9 1085.3,2603.4 1087.6,2600.9 C1089.9,2598.5 1092.2,2596.0 1094.5,2593.5 C1096.7,2591.0 1099.0,2588.5 1101.2,2586.0 C1103.5,2583.5 1105.7,2581.0 1108.0,2578.5 C1110.2,2576.0 1112.4,2573.5 1114.7,2571.0 C1116.9,2568.5 1119.1,2566.0 1121.3,2563.4 C1123.5,2560.9 1125.7,2558.3 1127.8,2555.8 C1130.0,2553.2 1132.2,2550.7 1134.3,2548.1 C1136.4,2545.5 1138.5,2542.9 1140.6,2540.3 C1142.7,2537.7 1144.8,2535.0 1146.9,2532.4 C1148.9,2529.7 1151.0,2527.1 1153.0,2524.4 C1155.0,2521.7 1157.1,2519.0 1159.1,2516.3 C1161.1,2513.6 1163.1,2510.9 1165.1,2508.2 C1167.1,2505.5 1169.0,2502.8 1171.0,2500.1 C1173.0,2497.4 1175.0,2494.7 1176.9,2491.9 C1178.9,2489.2 1180.9,2486.5 1182.8,2483.7 C1184.8,2481.0 1186.7,2478.3 1188.6,2475.5 C1190.6,2472.7 1192.5,2470.0 1194.4,2467.2 C1196.3,2464.4 1198.1,2461.7 1200.0,2458.9 C1201.9,2456.1 1203.7,2453.3 1205.5,2450.4 C1207.3,2447.6 1209.1,2444.8 1210.9,2442.0 C1212.7,2439.1 1214.4,2436.2 1216.2,2433.4 C1217.9,2430.5 1219.6,2427.6 1221.3,2424.7 C1222.9,2421.8 1224.6,2418.9 1226.2,2415.9 C1227.8,2413.0 1229.4,2410.0 1231.0,2407.0 C1232.5,2404.1 1234.1,2401.1 1235.6,2398.1 C1237.2,2395.1 1238.7,2392.1 1240.2,2389.1 C1241.8,2386.1 1243.3,2383.1 1244.9,2380.2 C1246.4,2377.2 1248.0,2374.2 1249.6,2371.3 C1251.2,2368.3 1252.9,2365.4 1254.6,2362.5 C1256.2,2359.5 1257.9,2356.6 1259.6,2353.7 C1261.2,2350.8 1262.9,2347.9 1264.5,2345.0 C1266.2,2342.0 1267.8,2339.1 1269.3,2336.1 C1270.9,2333.1 1272.4,2330.1 1273.9,2327.1 C1275.4,2324.1 1276.8,2321.1 1278.2,2318.0 C1279.6,2315.0 1280.9,2311.9 1282.2,2308.8 C1283.5,2305.7 1284.8,2302.6 1286.1,2299.5 C1287.4,2296.4 1288.6,2293.3 1290.0,2290.2 C1291.3,2287.1 1292.7,2284.0 1294.0,2281.0 C1295.4,2277.9 1296.9,2274.9 1298.3,2271.8 C1299.8,2268.8 1301.2,2265.8 1302.7,2262.7 C1304.1,2259.7 1305.5,2256.6 1306.9,2253.6 C1308.3,2250.5 1309.7,2247.5 1311.0,2244.4 C1312.4,2241.3 1313.6,2238.2 1314.9,2235.1 C1316.2,2232.0 1317.4,2228.9 1318.6,2225.7 C1319.8,2222.6 1321.0,2219.5 1322.2,2216.3 C1323.3,2213.2 1324.5,2210.0 1325.6,2206.9 C1326.8,2203.7 1327.9,2200.6 1329.1,2197.4 C1330.2,2194.3 1331.4,2191.1 1332.6,2188.0 C1333.7,2184.8 1334.9,2181.7 1336.1,2178.5 C1337.3,2175.4 1338.5,2172.2 1339.7,2169.1 C1340.9,2166.0 1342.2,2162.8 1343.4,2159.7 C1344.7,2156.6 1345.9,2153.5 1347.2,2150.3 C1348.4,2147.2 1349.7,2144.1 1350.9,2141.0 C1352.2,2137.9 1353.4,2134.7 1354.6,2131.6 C1355.9,2128.5 1357.1,2125.4 1358.3,2122.2 C1359.6,2119.1 1360.8,2116.0 1362.0,2112.8 C1363.2,2109.7 1364.3,2106.5 1365.5,2103.4 C1366.7,2100.2 1367.8,2097.1 1368.9,2093.9 C1370.0,2090.7 1371.1,2087.5 1372.1,2084.4 C1373.2,2081.2 1374.2,2078.0 1375.2,2074.8 C1376.2,2071.6 1377.2,2068.3 1378.1,2065.1 C1379.0,2061.9 1379.9,2058.6 1380.8,2055.4 C1381.6,2052.2 1382.5,2048.9 1383.3,2045.6 C1384.1,2042.4 1384.9,2039.1 1385.7,2035.8 C1386.5,2032.6 1387.2,2029.3 1388.0,2026.0 C1388.7,2022.7 1389.5,2019.5 1390.2,2016.2 C1390.9,2012.9 1391.6,2009.6 1392.4,2006.3 C1393.1,2003.0 1393.8,1999.8 1394.5,1996.5 C1395.2,1993.2 1395.9,1989.9 1396.6,1986.6 C1397.3,1983.4 1398.1,1980.1 1398.8,1976.8 C1399.5,1973.6 1400.3,1970.3 1401.1,1967.1 C1401.9,1963.8 1402.7,1960.6 1403.6,1957.4 C1404.5,1954.1 1405.5,1950.9 1406.4,1947.7 C1407.4,1944.5 1408.4,1941.3 1409.4,1938.1 C1410.4,1934.9 1411.4,1931.7 1412.4,1928.5 C1413.4,1925.3 1414.4,1922.1 1415.4,1918.9 C1416.4,1915.7 1417.3,1912.5 1418.3,1909.3 C1419.2,1906.0 1420.1,1902.8 1421.0,1899.5 C1421.8,1896.3 1422.7,1893.0 1423.5,1889.8 C1424.4,1886.5 1425.2,1883.3 1426.0,1880.0 C1426.8,1876.8 1427.7,1873.5 1428.5,1870.2 C1429.3,1867.0 1430.2,1863.7 1431.1,1860.5 C1431.9,1857.2 1432.8,1854.0 1433.7,1850.8 C1434.6,1847.5 1435.6,1844.3 1436.6,1841.1 C1437.6,1837.9 1438.6,1834.7 1439.7,1831.5 C1440.7,1828.3 1441.9,1825.1 1443.1,1822.0 C1444.2,1818.8 1446.2,1814.2 1446.8,1812.6" clip-path="url(#plotclip)" fill="none" stroke="#0000ff" stroke-width="6.4" stroke-linejoin="round" stroke-linecap="round"/>
<rect x="410.6" y="2740.0" width="304.5" height="92.4" fill="none" stroke="#0a0a0a" stroke-width="5"/>
<g stroke="#3a3a3a" stroke-width="3.2" stroke-linecap="round" fill="none">
<line x1="418.4" y1="2776.5" x2="453.5" y2="2755.1"/>
<line x1="446.1" y1="2762.7" x2="480.7" y2="2767.3"/>
<line x1="433.4" y1="2785.7" x2="469.2" y2="2772.6"/>
<line x1="464.6" y1="2780.4" x2="495.7" y2="2797.3"/>
<line x1="490.4" y1="2804.9" x2="516.5" y2="2798.4"/>
<line x1="497.3" y1="2759.2" x2="534.2" y2="2773.0"/>
<line x1="523.4" y1="2785.3" x2="567.2" y2="2771.2"/>
<line x1="562.6" y1="2769.6" x2="602.9" y2="2774.2"/>
<line x1="518.8" y1="2815.7" x2="541.8" y2="2788.7"/>
<line x1="543.0" y1="2801.9" x2="602.9" y2="2815.7"/>
<line x1="566.0" y1="2804.9" x2="602.5" y2="2786.4"/>
<line x1="601.8" y1="2776.5" x2="620.2" y2="2756.4"/>
<line x1="620.2" y1="2761.5" x2="650.2" y2="2781.1"/>
<line x1="598.8" y1="2793.8" x2="629.5" y2="2812.2"/>
<line x1="623.7" y1="2818.0" x2="650.9" y2="2788.0"/>
<line x1="644.0" y1="2766.8" x2="679.5" y2="2751.8"/>
<line x1="679.5" y1="2761.5" x2="705.6" y2="2778.8"/>
</g>
</g>
<text class="serif" fill="#000"><tspan x="844.83" y="3215.43" font-size="85.36" textLength="25.54" lengthAdjust="spacingAndGlyphs">(</tspan><tspan x="872.17" y="3215.93" font-size="89.11" font-weight="bold" textLength="49.65" lengthAdjust="spacingAndGlyphs">b</tspan><tspan x="922.59" y="3215.43" font-size="85.36" textLength="25.93" lengthAdjust="spacingAndGlyphs">)</tspan></text>
</svg>
</body>
</html>
